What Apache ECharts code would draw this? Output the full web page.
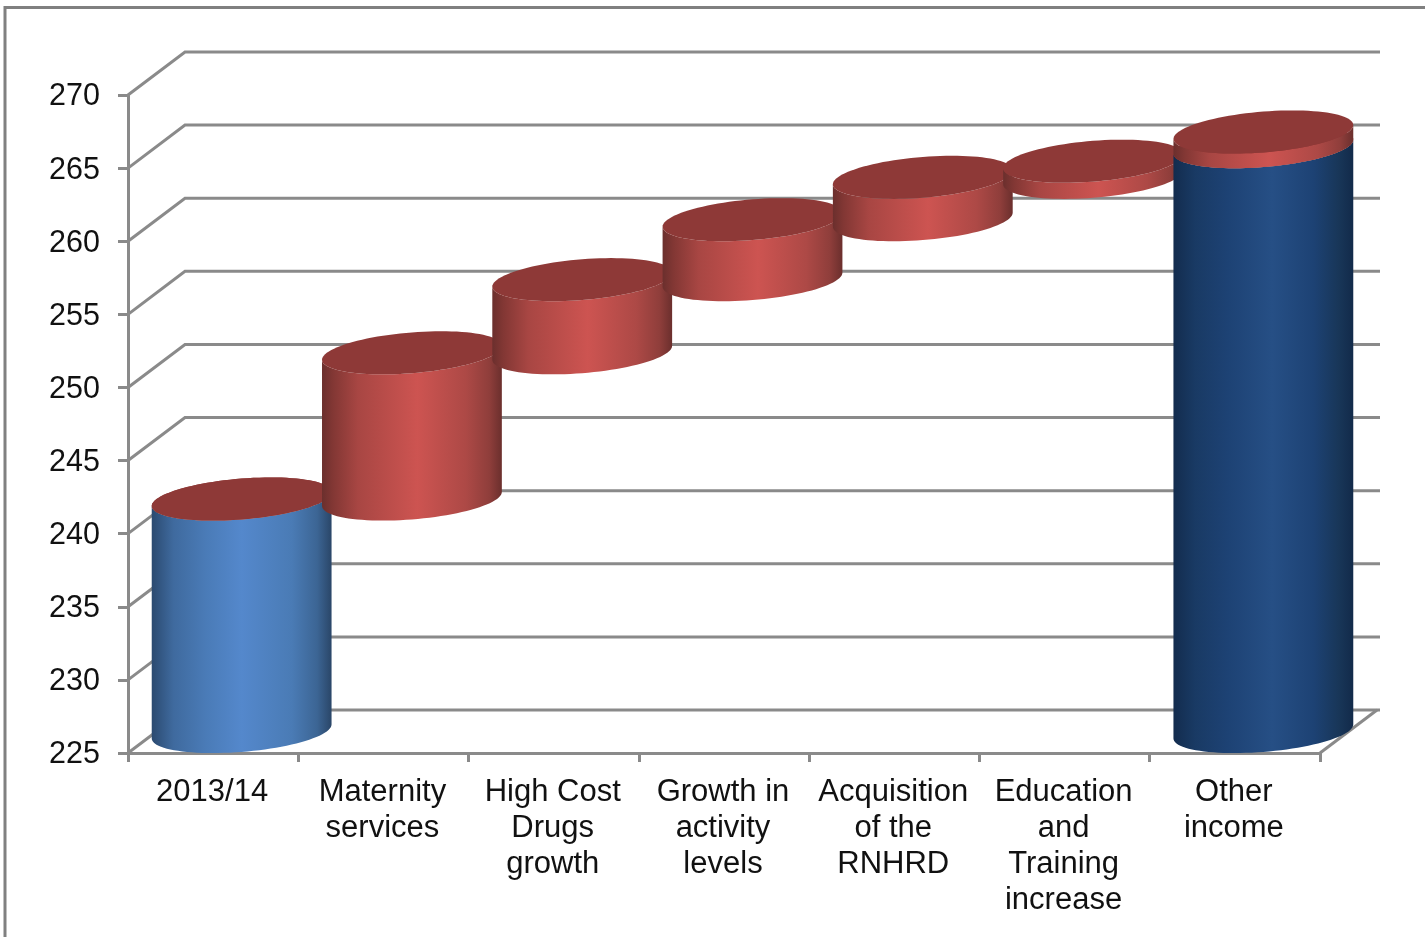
<!DOCTYPE html>
<html>
<head>
<meta charset="utf-8">
<style>html,body{margin:0;padding:0;background:#fff}#chart{width:1425px;height:937px;filter:blur(0.6px)}</style>
<script src="https://cdn.jsdelivr.net/npm/echarts@6/dist/echarts.min.js"></script>
</head>
<body>
<div id="chart"></div>
<script>
const categories = ['2013/14', 'Maternity\nservices', 'High Cost\nDrugs\ngrowth', 'Growth in\nactivity\nlevels', 'Acquisition\nof the\nRNHRD', 'Education\nand\nTraining\nincrease', 'Other\nincome'];
const yTicks = [225, 230, 235, 240, 245, 250, 255, 260, 265, 270];
const openingBase = [225, null, null, null, null, null, null];
const openingTop = [240.9, null, null, null, null, null, null];
const increaseBase = [240.9, 240.9, 250.9, 255.9, 260, 262.9, null];
const increaseTop = [240.9, 250.9, 255.9, 260, 262.9, 264, null];
const closingBase = [null, null, null, null, null, null, 225];
const closingTop = [null, null, null, null, null, null, 265];
const lastIncreaseBase = [null, null, null, null, null, null, 265];
const lastIncreaseTop = [null, null, null, null, null, null, 266];

const rows = (base, top) => categories.map((c, i) => [i, base[i], top[i]]).filter(r => r[1] !== null);
const gradient = stops => new echarts.graphic.LinearGradient(0, 0, 1, 0, stops.map(s => ({offset: s[0], color: s[1]})));
const depthX = 57, depthY = 43, tilt = 7, ellipseY = 20.4, GRID = '#8a8a8a';

function cylinder(bodyStops, capColor) {
  return function (params, api) {
    const i = api.value(0);
    const rx = api.size([1, 0])[0] * 0.528;
    const a = api.coord([i, api.value(1)]);
    const b = api.coord([i, api.value(2)]);
    const cx = a[0] + depthX / 2;
    const yBase = a[1] - depthY / 2, yTop = b[1] - depthY / 2;
    const pt = (cy, t) => [cx + rx * Math.cos(t), cy + ellipseY * Math.sin(t) - tilt * Math.cos(t)];
    const lower = [], upper = [], full = [];
    for (let n = 0; n <= 48; n++) lower.push(pt(yBase, Math.PI * (1 - n / 48)));
    for (let n = 0; n <= 48; n++) upper.push(pt(yTop, Math.PI * n / 48));
    for (let n = 0; n < 96; n++) full.push(pt(yTop, 2 * Math.PI * n / 96));
    const children = [];
    if (yBase - yTop > 0.5) {
      children.push({type: 'polygon', shape: {points: lower.concat(upper)}, style: {fill: gradient(bodyStops)}});
    }
    children.push({type: 'polygon', shape: {points: full}, style: {fill: capColor}});
    return {type: 'group', children};
  };
}

const blueStops = [[0, '#2b4a70'], [0.12, '#3f6a9e'], [0.3, '#4a7bb7'], [0.5, '#5488cc'], [0.78, '#4a7bb5'], [0.92, '#3c6594'], [1, '#2a4668']];
const navyStops = [[0, '#132c4e'], [0.12, '#193a64'], [0.3, '#1d4274'], [0.55, '#264f85'], [0.78, '#1d4274'], [0.92, '#183658'], [1, '#122a4a']];
const redStops = [[0, '#6b2f2d'], [0.06, '#823734'], [0.2, '#a84643'], [0.53, '#cd5451'], [0.8, '#ad4946'], [0.93, '#8f3e3b'], [1, '#6b2f2d']];
const CAP = '#8e3937';
const FONT = '"Liberation Sans", Arial, sans-serif';

const chart = echarts.init(document.getElementById('chart'));
chart.setOption({
  animation: false,
  backgroundColor: '#fff',
  textStyle: {fontFamily: FONT},
  graphic: [{type: 'polyline', z: 0, shape: {points: [[5, 937], [5, 7.5], [1425, 7.5]]}, style: {stroke: '#808080', lineWidth: 3, fill: null}}],
  grid: {left: 128, right: 105, top: 95, bottom: 184},
  xAxis: {
    type: 'category', data: categories,
    axisLine: {lineStyle: {color: GRID, width: 3}},
    axisTick: {show: true, length: 9, alignWithLabel: false, lineStyle: {color: GRID, width: 3}},
    axisLabel: {interval: 0, color: '#111', fontSize: 31, lineHeight: 36, margin: 21, padding: [0, 2, 0, 0], fontFamily: FONT},
    splitLine: {show: false}
  },
  yAxis: {
    type: 'value', min: 225, max: 270, interval: 5,
    axisLine: {show: true, lineStyle: {color: GRID, width: 3}},
    axisTick: {show: true, length: 10, lineStyle: {color: GRID, width: 3}},
    axisLabel: {
      margin: 28, formatter: '{t|{value}}',
      rich: {t: {color: '#111', fontSize: 30.5, padding: [4, 0, 0, 0], fontFamily: FONT}}
    },
    splitLine: {show: false}
  },
  series: [
    {
      type: 'custom', name: 'Gridlines', silent: true, z: 1, clip: false,
      encode: {y: 0}, data: yTicks.map(v => [v]),
      renderItem(params, api) {
        const sys = params.coordSys;
        const y = api.coord([0, api.value(0)])[1];
        const line = pts => ({type: 'polyline', shape: {points: pts}, style: {stroke: GRID, lineWidth: 3, fill: null}});
        const kids = [line([[sys.x, y], [sys.x + depthX, y - depthY], [sys.x + sys.width + depthX + 3, y - depthY]])];
        if (api.value(0) === yTicks[0]) kids.push(line([[sys.x + sys.width, y], [sys.x + sys.width + depthX, y - depthY]]));
        return {type: 'group', children: kids};
      }
    },
    {type: 'custom', name: 'Opening', z: 2, clip: false, encode: {x: 0, y: 2}, data: rows(openingBase, openingTop), renderItem: cylinder(blueStops, CAP)},
    {type: 'custom', name: 'Increase', z: 3, clip: false, encode: {x: 0, y: 2}, data: rows(increaseBase, increaseTop), renderItem: cylinder(redStops, CAP)},
    {type: 'custom', name: 'Closing', z: 4, clip: false, encode: {x: 0, y: 2}, data: rows(closingBase, closingTop), renderItem: cylinder(navyStops, CAP)},
    {type: 'custom', name: 'Last increase', z: 5, clip: false, encode: {x: 0, y: 2}, data: rows(lastIncreaseBase, lastIncreaseTop), renderItem: cylinder(redStops, CAP)}
  ]
});
</script>
</body>
</html>
